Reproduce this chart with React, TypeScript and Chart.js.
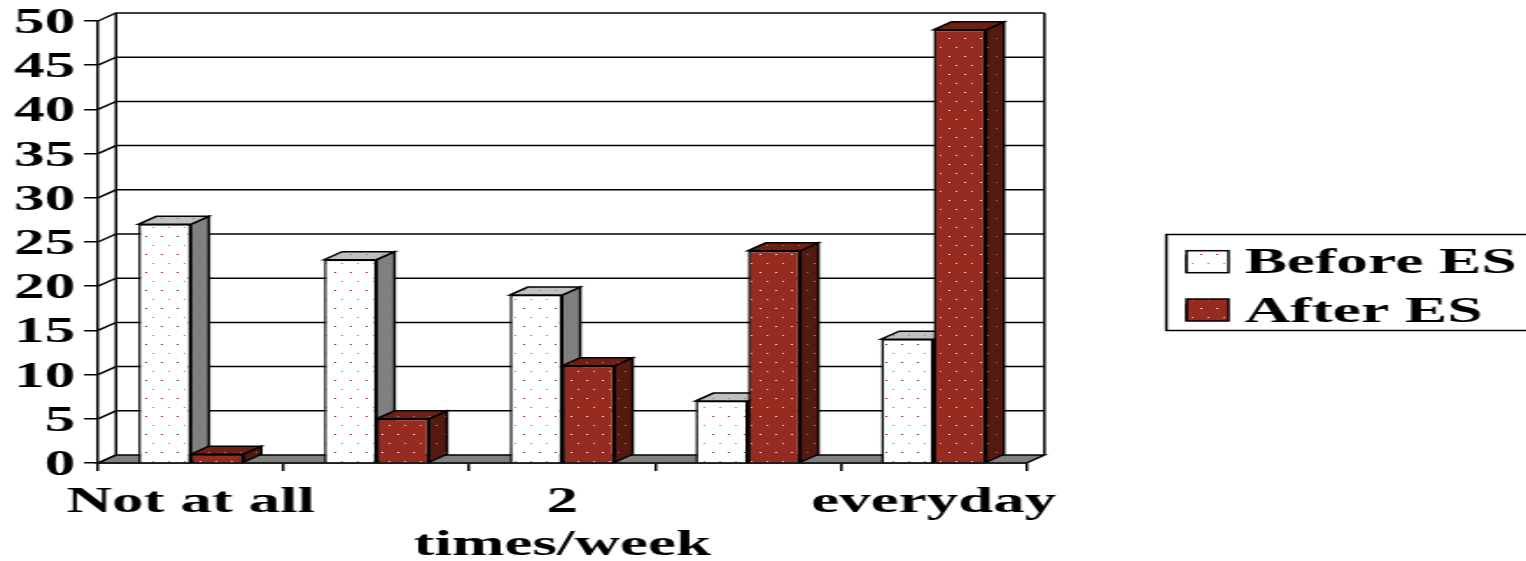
import React, { useEffect, useRef } from "react";
import { Chart, registerables } from "chart.js";

Chart.register(...registerables);

const categories: (string | string[])[] = ["Not at all", "", ["2", "times/week"], "", "everyday"];
const beforeES = [27, 23, 19, 7, 14];
const afterES = [1, 5, 11, 24, 49];
const seriesNames = ["Before ES", "After ES"];

const STRETCH = 1.75;
const CANVAS_W = 872;
const CANVAS_H = 561;
const DX = 10.3;
const DY = 8;
const FONT_Y = { family: '"Liberation Serif"', weight: "bold" as const, size: 35 };
const FONT_X = { family: '"Liberation Serif"', weight: "bold" as const, size: 36 };
const FONT_LEGEND = { family: '"Liberation Serif"', weight: "bold" as const, size: 36.3 };
const LINE = 1.5;

function dotted(bg: string, c1: string, c2: string): CanvasPattern {
  const t = document.createElement("canvas");
  t.width = 18;
  t.height = 18;
  const c = t.getContext("2d")!;
  c.fillStyle = bg;
  c.fillRect(0, 0, 18, 18);
  c.fillStyle = c1;
  c.fillRect(2, 2, 1, 1);
  c.fillRect(11, 2, 1, 1);
  c.fillStyle = c2;
  c.fillRect(6, 11, 1, 1);
  c.fillRect(15, 11, 1, 1);
  return t.getContext("2d")!.createPattern(t, "repeat")!;
}

function poly(ctx: CanvasRenderingContext2D, pts: number[][], fill?: string | CanvasPattern) {
  ctx.beginPath();
  pts.forEach((p, i) => (i ? ctx.lineTo(p[0], p[1]) : ctx.moveTo(p[0], p[1])));
  ctx.closePath();
  if (fill) {
    ctx.fillStyle = fill;
    ctx.fill();
  }
  ctx.stroke();
}

export default function App() {
  const ref = useRef<HTMLCanvasElement>(null);
  useEffect(() => {
    const faces = [
      { top: dotted("#c0c0c0", "#a87070", "#b08080"), side: dotted("#808080", "#a85a50", "#a06058") },
      { top: dotted("#6e2015", "#b87a70", "#a86a60"), side: dotted("#541a10", "#9a6a60", "#b08a80") },
    ];
    const fronts = [
      dotted("#ffffff", "#a00800", "#c07868"),
      dotted("#962b1f", "#ffffff", "#f0c8c0"),
    ];
    const depth = {
      id: "depth",
      beforeDatasetsDraw(chart: any) {
        const { ctx, chartArea: a, scales } = chart;
        const y = scales.y;
        ctx.save();
        ctx.strokeStyle = "#000";
        ctx.lineWidth = LINE;
        // floor
        poly(ctx, [[a.left, a.bottom], [a.left + DX, a.bottom - DY], [a.right + DX, a.bottom - DY], [a.right, a.bottom]], "#808080");
        // back wall and side wall lines, at the scale's ticks
        y.ticks.forEach((t: any) => {
          const py = y.getPixelForValue(t.value);
          ctx.beginPath();
          ctx.moveTo(a.left, py);
          ctx.lineTo(a.left + DX, py - DY);
          if (t.value !== 0) ctx.lineTo(a.right + DX, py - DY);
          ctx.stroke();
        });
        ctx.beginPath();
        ctx.moveTo(a.left + DX, a.top - DY);
        ctx.lineTo(a.left + DX, a.bottom - DY);
        ctx.moveTo(a.right + DX, a.top - DY);
        ctx.lineTo(a.right + DX, a.bottom - DY);
        ctx.stroke();
        // side and top faces of the bars, first series first
        ctx.lineJoin = "miter";
        [0, 1].forEach((index) => {
          const f = faces[index];
          chart.getDatasetMeta(index).data.forEach((bar: any) => {
            const { x, y: top, width, base } = bar.getProps(["x", "y", "width", "base"], true);
            const l = x - width / 2;
            const r = x + width / 2;
            poly(ctx, [[r, top], [r + DX, top - DY], [r + DX, base - DY], [r, base]], f.side);
            poly(ctx, [[l, top], [r, top], [r + DX, top - DY], [l + DX, top - DY]], f.top);
          });
        });
        ctx.restore();
      },
      afterDraw(chart: any) {
        const { ctx, legend } = chart;
        ctx.save();
        ctx.strokeStyle = "#000";
        ctx.lineWidth = LINE;
        ctx.strokeRect(legend.left + 0.5, 234.5, CANVAS_W, 96);
        legend.legendHitBoxes.forEach((b: any, i: number) => {
          ctx.fillStyle = fronts[i];
          ctx.fillRect(b.left, b.top + 5, 24, 22);
          ctx.strokeRect(b.left, b.top + 5, 24, 22);
        });
        ctx.restore();
      },
    };

    const chart = new Chart(ref.current!, {
      type: "bar",
      data: {
        labels: categories as any,
        datasets: [
          {
            label: seriesNames[0],
            data: beforeES,
            backgroundColor: fronts[0],
            borderColor: "#000",
            borderWidth: LINE,
          },
          {
            label: seriesNames[1],
            data: afterES,
            backgroundColor: fronts[1],
            borderColor: "#000",
            borderWidth: LINE,
          },
        ],
      },
      options: {
        animation: false,
        responsive: false,
        devicePixelRatio: 1,
        layout: { padding: { top: 21, left: 0, right: 0, bottom: 6 } },
        datasets: { bar: { categoryPercentage: 0.565, barPercentage: 1 } },
        plugins: {
          tooltip: { enabled: false },
          title: { display: false },
          legend: {
            position: "right",
            maxWidth: 206,
            labels: {
              boxWidth: 15,
              boxHeight: 16,
              padding: 12,
              color: "#000",
              font: FONT_LEGEND,
            },
          },
        },
        scales: {
          x: {
            grid: { drawOnChartArea: false, color: "#000", lineWidth: LINE, tickLength: 8, offset: true },
            border: { color: "#000", width: LINE },
            ticks: { autoSkip: false, maxRotation: 0, minRotation: 0, color: "#000", font: FONT_X, padding: 10 },
            afterFit: (s: any) => { s.height = 92; },
          },
          y: {
            min: 0,
            max: 50,
            grid: { drawOnChartArea: false, color: "#000", lineWidth: LINE, tickLength: 8 },
            border: { color: "#000", width: LINE },
            ticks: { stepSize: 5, autoSkip: false, color: "#000", font: FONT_Y, padding: 5, labelOffset: 3 },
            afterFit: (s: any) => { s.width = 56; s.paddingTop = 0; },
          },
          gap: {
            position: "right",
            grid: { display: false },
            border: { display: false },
            ticks: { display: false },
            afterFit: (s: any) => { s.width = 79.5; },
          },
        },
      } as any,
      plugins: [depth],
    });
    return () => chart.destroy();
  }, []);

  return (
    <div style={{ position: "absolute", left: 0, top: 0, width: 1526, height: CANVAS_H, overflow: "hidden", background: "#fff" }}>
      <div style={{ width: CANVAS_W, height: CANVAS_H, transform: `scaleX(${STRETCH})`, transformOrigin: "0 0" }}>
        <canvas ref={ref} width={CANVAS_W} height={CANVAS_H} />
      </div>
    </div>
  );
}
